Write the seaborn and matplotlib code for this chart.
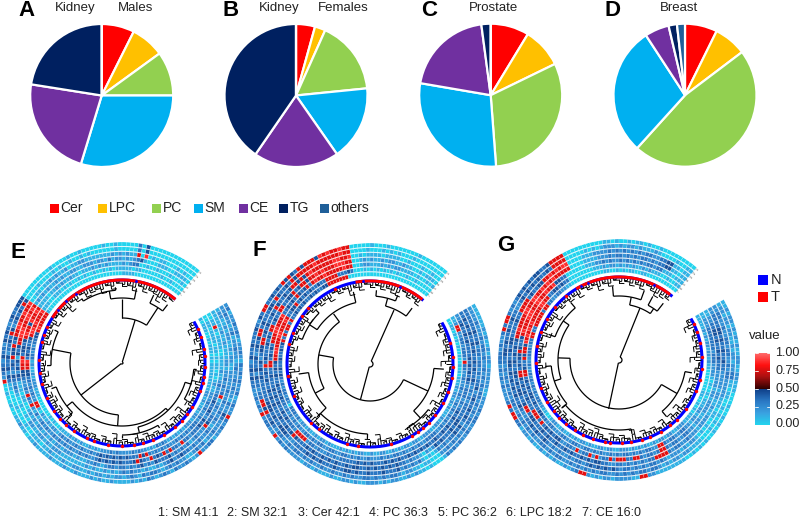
import numpy as np
import matplotlib
matplotlib.use("Agg")
import matplotlib.pyplot as plt
from matplotlib.colors import ListedColormap
from matplotlib.patches import Rectangle
import seaborn as sns

# pie panels
lipids = ["Cer", "LPC", "PC", "SM", "CE", "TG", "others"]
lipid_colors = ["#ff0000", "#ffc000", "#92d050", "#00b0f0", "#7030a0", "#002060", "#1f5f99"]
kidney_m = [7.4, 7.6, 10.0, 29.7, 22.8, 22.5, 0.0]
kidney_f = [4.3, 2.4, 16.7, 16.9, 19.3, 40.4, 0.0]
prostate = [8.7, 9.1, 31.0, 28.9, 20.2, 2.1, 0.0]
breast = [7.3, 7.4, 47.0, 29.1, 5.5, 1.9, 1.8]

# circular heatmaps, one digit = value*9, outer ring first, clockwise from the gap
rings_e = [
    "23122323212232132323 22312322732322133227 21232231232123121211 11211212111211211121 11121101121100100100 72343243324343234334 44000000000100001001 00000100100000304000 0000000000",
    "22322123122322123223 23221322432223221323 21122323212332312321 22121221211221121112 11011100100001000011 34243342334374234343 74000010000101001001 01000000100000304000 0000000000",
    "12211212211212211222 22322322323212322323 23343243212112122323 21212112121111111222 12122112201001001232 34234374473477887787 78001101121211201122 11111112121211708010 1100010100",
    "11111121121111221223 23237123223347222321 32323243334232432323 32332123221121222122 12121221212100110111 34243414347788877887 87121212112121122112 22122131221212341000 1110011110",
    "00117101111001111211 23223343343243433323 37233737343723474333 43434343223232232323 23223232131272372322 34477873443478774877 87111101121211211011 12121211112123300100 1000100010",
    "00110111101101011010 12112223232232333232 32322323232374733343 43434343232232322323 21221211201772232323 34477834343347887877 78111001110101001010 01001010111110110000 0010010000",
    "10111001011101011111 11112212112122122212 12121232312122323222 23232221212112121211 11001010000000111222 12112133232334478777 77100000000000000000 00000000001111000000 0000000000",
]
rings_f = [
    "11111121211212212222 21122232332232232323 10001011212112212122 21121221121112122122 22323272233272323223 34343243343334324377 33434374743747774878 77877000001000100000 0010000000",
    "22223222323323223232 32332323233232323232 20001101122123323232 33223232232232232323 32322332343374773323 34243342343477343334 43743343747777787777 77877000010001010100 0100000000",
    "33333343342332332323 34234334343243433232 31010132323243334333 43343443343334343433 33223444334344433333 34343423447734343343 74334347747478777777 88778001011110111100 1000100100",
    "33434343343433434334 32323233333443433343 42120122323343434343 43344343343434334343 33474343343334343433 43437343334343773433 77334473477477878777 88877001212112122112 1100101110",
    "22343343433334343434 32333232343433434334 33434343433434343334 34343333323232232332 77772333434334343433 34337734343777887778 33434374347378778777 77877001221112121221 1110100101",
    "11277223323332733223 22323223232323232233 33223232232332323222 32232323322332233232 33223232323233434343 34343477887778877787 33447343434334337777 33343000101010101010 0100100000",
    "00110101010010010101 11212212121112122112 22112212212121122112 11221212121112122121 12122132333023233232 34343343343473737737 33434343343433447777 77700000000000000000 0000000000",
]
rings_g = [
    "11212212121211221122 11100010010101001010 10011111111227711222 21221212773212112121 21121221337737322232 32323332322373773232 34343434433477770000 00000011010010110100 1000000000",
    "12212212211212212233 11011001010101000111 12212212123323323232 32233232323232233232 33223232323223323232 32323344343343343322 34343434334377770000 01010122212122121112 1000010011",
    "22332232233233223233 22222111011001010122 12122212323323232332 34343434323323223232 34334343322343343434 34344334344333343377 77343344778787880000 11122223232323232332 2334411011",
    "22333344343343343322 22212211211222212223 22332377773323232323 32233443434334343343 34343334437743344343 44334343434778777788 77887787878777770000 11112223233232323323 2334411011",
    "11223344343343433322 22212212222112212233 22332377323323773377 73733272733272332244 34343737773334343434 77343447433478777888 77887787784433000000 11122323223232323233 2331110111",
    "11222333333323332222 10100101112212212233 22332377223323232332 32322323233223322332 22332334433434434343 77433747748787878777 77887733443433000000 00111212212121211212 1110010011",
    "11111212122122121100 00000110010101111222 11221221211212121222 11221221121221212112 11221001122332323232 32232233323377337777 73773322332211000000 00000110010101100110 0000000000",
]

# tumour samples on the annotation ring: red stretch, then single red samples
red_span_e = (303, 400)
red_span_f = (350, 399)
red_span_g = (329, 398)
blue_in_span_e = [310, 318, 326, 370]
blue_in_span_f = [355, 381]
blue_in_span_g = [333, 338, 385]
tumour_e = [66, 72, 80, 85, 93, 100, 104, 110, 122, 128, 134, 140, 150, 158, 165, 172, 180, 190,
            200, 205, 215, 222, 228, 235, 245, 255, 263, 272, 285, 290, 296]
tumour_f = [75, 85, 92, 100, 110, 118, 128, 135, 140, 145, 150, 165, 188, 196, 218, 225, 247,
            262, 284, 292, 305, 312, 335]
tumour_g = [64, 70, 78, 88, 96, 104, 112, 126, 136, 142, 150, 158, 164, 172, 178, 186, 190, 198,
            206, 212, 220, 226, 232, 240, 250, 268, 280, 290, 300, 310, 320]

# dendrogram links: angle a, angle b, arc radius, child radius at a, child radius at b
links_e = [
    (17, 232, 1, 45, 52), (0, 33, 45, 64, 66), (-10, 11, 65, 73, 76), (25, 38, 66, 75, 74),
    (-32, -5, 73, 76, 76), (281, 184, 52, 71, 63), (268, 296, 71, 75, 75), (136, 232, 63, 66, 70),
    (225, 250, 70, 75, 75), (107, 166, 66, 72, 72), (95, 120, 72, 75, 75), (150, 180, 72, 75, 75),
]
links_f = [
    (24, 195, 3, 59, 37), (15, 37, 60, 68, 70), (5, 22, 68, 74, 74), (115, 280, 37, 64, 52),
    (94, 137, 64, 74, 74), (242, 324, 52, 62, 62), (303, 347, 63, 72, 74), (225, 262, 62, 72, 72),
    (128, 150, 74, 76, 76), (182, 225, 70, 75, 75), (290, 315, 72, 76, 76),
]
links_g = [
    (22, 192, 3, 56, 50), (11, 34, 56, 64, 62), (-5, 20, 64, 74, 74), (28, 38, 62, 72, 72),
    (120, 272, 49, 67, 61), (100, 140, 67, 74, 74), (252, 305, 61, 68, 68), (290, 320, 68, 75, 75),
    (230, 265, 68, 74, 74), (170, 230, 70, 75, 75),
]

# leaf comb depths along the rim
depth_e = "3725193427 1836251946 2714362814 3925143725 1825364172 6342816342 7163925164 3826143726 34951"
depth_f = "2714362914 3625183251 4762514392 5143725164 2836142736 1925361425 3814253714 2936142536 71425"
depth_g = "3814253914 2736142836 1725361925 3614853714 2536942536 1725361825 3914253714 2836142536 14753"

cbar_ticks = [0.0, 0.25, 0.5, 0.75, 1.0]
compounds = ["1: SM 41:1", "2: SM 32:1", "3: Cer 42:1", "4: PC 36:3", "5: PC 36:2", "6: LPC 18:2", "7: CE 16:0"]

W, H = 799, 519
sns.set_theme(style="white")
plt.rcParams["font.family"] = ["Liberation Sans", "DejaVu Sans"]

low = sns.blend_palette(["#22d4ee", "#3aa0e0", "#2a78c4", "#0f3f88"], 128)
high = sns.blend_palette(["#300000", "#a81010", "#ff1010", "#ff6a6a"], 128)
heat_cmap = ListedColormap(list(low) + list(high))

fig = plt.figure(figsize=(W / 100, H / 100), dpi=100)


def px_axes(x0, y0, x1, y1, **kw):
    # axes from pixel box, y from the top
    return fig.add_axes([x0 / W, 1 - y1 / H, (x1 - x0) / W, (y1 - y0) / H], **kw)


def put(x, y, s, **kw):
    fig.text(x / W, 1 - y / H, s, va="center", color=kw.pop("color", "#222222"), **kw)


def draw_pie(cx, cy, values):
    r = 71.5
    ax = px_axes(cx - r - 2, cy - r - 2, cx + r + 2, cy + r + 2)
    ax.pie(values, colors=lipid_colors, startangle=90, counterclock=False, radius=r / (r + 2),
           wedgeprops=dict(edgecolor="white", linewidth=1.6))
    ax.set_xlim(-1, 1)
    ax.set_ylim(-1, 1)


def arc(ax, a, b, r, lw):
    t = np.radians(np.linspace(a, b, max(3, int(abs(b - a)))))
    ax.plot(t, np.full(t.shape, r), color="black", lw=lw, solid_capstyle="butt")


def stem(ax, a, r0, r1, lw):
    ax.plot(np.radians([a, a]), [r0, r1], color="black", lw=lw, solid_capstyle="butt")


def draw_circle(cx, cy, rings, span, blue_spots, tumour, links, depth):
    R = 121
    ax = px_axes(cx - R, cy - R, cx + R, cy + R, projection="polar")
    ax.set_theta_zero_location("N")
    ax.set_theta_direction(-1)
    ax.set_axis_off()
    ax.patch.set_alpha(0)

    # heat rings
    r_in, r_out, start, end = 87.0, 121.0, 60, 400
    step = (r_out - r_in) / len(rings)
    for k, ring in enumerate(rings):
        vals = np.array([int(c) / 9 for c in ring.replace(" ", "")])
        edges = np.linspace(start, end, len(vals) + 1)
        th = np.radians(edges[:-1] + np.diff(edges) / 2)
        r_top = r_out - k * step
        ax.bar(th, step - 0.8, width=np.radians(np.diff(edges)), bottom=r_top - step + 0.8,
               color=heat_cmap(vals), edgecolor="white", linewidth=0.12)
        ax.text(np.radians(41.2), r_top - step / 2 + 1, str(k + 1), fontsize=2.5, color="#444444",
                rotation=49, ha="center", va="center")

    # sample annotation ring
    th = np.radians(np.linspace(60, 400, 200))
    ax.plot(th, np.full(th.shape, 83.0), color="#0000ff", lw=2.2, solid_capstyle="butt")
    th = np.radians(np.linspace(span[0], span[1], 60))
    ax.plot(th, np.full(th.shape, 83.0), color="#ff0000", lw=2.2, solid_capstyle="butt")
    ax.scatter(np.radians(blue_spots), np.full(len(blue_spots), 83.0), s=4, color="#0000ff", lw=0, zorder=3)
    ax.scatter(np.radians(tumour), np.full(len(tumour), 83.0), s=6, color="#ff0000", lw=0, zorder=3)

    # tree
    for a, b, r, ra, rb in links:
        arc(ax, a, b, r, 0.9)
        stem(ax, a, r, ra, 0.9)
        stem(ax, b, r, rb, 0.9)
    d = [int(c) for c in depth.replace(" ", "")]
    th = np.linspace(60, 400, len(d) + 1)
    for i in range(len(d)):
        tip = 81 - 1.1 * d[i]
        stem(ax, th[i], tip, 81.5, 0.7)
        arc(ax, th[i], th[i + 1], tip, 0.7)
        mid = (th[i] + th[i + 1]) / 2
        stem(ax, mid, 81 - 0.6 * d[i], 81.5, 0.7)
        arc(ax, th[i], mid, 81 - 0.6 * d[i], 0.7)
    ax.set_ylim(0, R)
    ax.set_xlim(0, 2 * np.pi)
    ax.grid(False)


draw_pie(101.7, 95.5, kidney_m)
draw_pie(296, 95.5, kidney_f)
draw_pie(490.7, 95.2, prostate)
draw_pie(685, 95.2, breast)

draw_circle(122, 363, rings_e, red_span_e, blue_in_span_e, tumour_e, links_e, depth_e)
draw_circle(370, 364, rings_f, red_span_f, blue_in_span_f, tumour_f, links_f, depth_f)
draw_circle(619, 360, rings_g, red_span_g, blue_in_span_g, tumour_g, links_g, depth_g)

# panel letters and pie titles
for s, x, y in [("A", 18, 11), ("B", 223, 11), ("C", 421, 11), ("D", 604, 11), ("E", 11, 252), ("F", 252, 251), ("G", 497, 245)]:
    put(x, y, s, fontsize=16, fontweight="bold", color="black")
for s, x in [("Kidney", 75), ("Males", 136), ("Kidney", 279), ("Females", 343), ("Prostate", 493), ("Breast", 679)]:
    put(x, 8, s, fontsize=9.5, ha="center")

# lipid legend
over = px_axes(0, 0, W, H)
over.set_xlim(0, W)
over.set_ylim(H, 0)
over.axis("off")
over.patch.set_alpha(0)
for name, col, x in zip(lipids, lipid_colors, [50, 98, 152, 194, 239, 279, 320]):
    over.add_patch(Rectangle((x, 204), 9, 9, color=col, lw=0))
    put(x + 10.5, 208.5, name, fontsize=10, ha="left")

# N / T legend
for name, col, y in [("N", "#0000ff", 275), ("T", "#ff0000", 292)]:
    over.add_patch(Rectangle((758, y), 9.5, 9.5, color=col, lw=0))
    put(770.5, y + 5, name, fontsize=10.5, ha="left")

# colour bar
put(749, 336, "value", fontsize=9.5, ha="left")
cax = px_axes(755, 353, 770, 425)
sns.heatmap(np.linspace(1, 0, 256)[:, None], ax=cax, cmap=heat_cmap, vmin=0, vmax=1, cbar=False,
            xticklabels=False, yticklabels=False)
for v in cbar_ticks:
    y = (1 - v) * 256
    cax.plot([0, 0.2], [y, y], color="white", lw=0.6)
    cax.plot([0.8, 1], [y, y], color="white", lw=0.6)
    put(775, 424 - v * 71, f"{v:.2f}", fontsize=9, ha="left")

# compound key under the rings
for s, x in zip(compounds, [158, 227, 298, 369, 438, 506, 582]):
    put(x, 513, s, fontsize=9, ha="left")

fig.savefig("out.png", dpi=100)
